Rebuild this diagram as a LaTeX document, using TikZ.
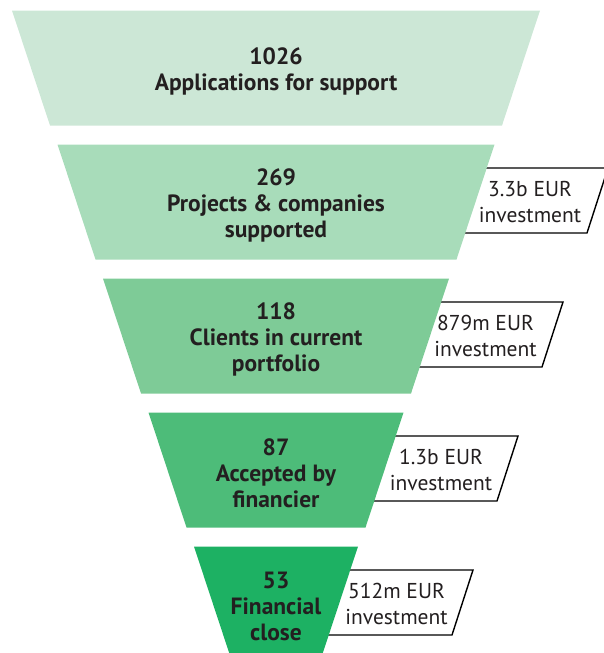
\documentclass[tikz,border=0pt]{standalone}
\usepackage{fontspec}
\setmainfont{PT Sans}
\definecolor{fA}{RGB}{204,231,214}
\definecolor{fB}{RGB}{168,220,186}
\definecolor{fC}{RGB}{126,203,151}
\definecolor{fD}{RGB}{77,188,121}
\definecolor{fE}{RGB}{29,177,99}
\definecolor{txt}{RGB}{35,31,32}
\tikzset{
  layer/.style={draw=none},
  boxline/.style={draw=black, line width=1.4pt, line join=miter},
  bigtxt/.style={align=center, text=txt, font=\fontsize{23.5}{26}\selectfont\bfseries, inner sep=0pt},
  smalltxt/.style={align=center, text=txt, font=\fontsize{21.5}{26.5}\selectfont, inner sep=0pt}
}
\begin{document}
\begin{tikzpicture}[x=1pt,y=-1pt]
\useasboundingbox (0,0) rectangle (604,653);
% boxes (behind funnel)
\foreach \i/\t in {1/{3.3b EUR\\investment},2/{879m EUR\\investment},3/{1.3b EUR\\investment},4/{512m EUR\\investment}}{
  \pgfmathsetmacro{\ty}{168+134*(\i-1)}
  \pgfmathsetmacro{\by}{\ty+65}
  \pgfmathsetmacro{\rx}{608-45*(\i-1)}
  \pgfmathsetmacro{\lx}{\rx-160}
  \fill[white] (\lx,\ty) -- (\rx,\ty) -- (\rx-21,\by) -- (\lx-21,\by) -- cycle;
  \draw[boxline] (\lx,\ty) -- (\rx,\ty) -- (\rx-21,\by) -- (\lx-21,\by);
  \node[smalltxt] (box\i) at ({530-44.5*(\i-1)},{\ty+34}) {\t};
}
% funnel layers
\foreach \i/\c in {0/fA,1/fB,2/fC,3/fD,4/fE}{
  \pgfmathsetmacro{\ty}{10.5+134*\i}
  \pgfmathsetmacro{\by}{\ty+115}
  \pgfmathsetmacro{\hw}{264-45.5*\i}
  \fill[\c] (276-\hw,\ty) -- (276+\hw,\ty) -- (276+\hw-38,\by) -- (276-\hw+38,\by) -- cycle;
}
\node[bigtxt] (l1) at (276,71) {1026\\Applications for support};
\node[bigtxt] (l2) at (276,205) {269\\Projects \& companies\\supported};
\node[bigtxt] (l3) at (276,339) {118\\Clients in current\\portfolio};
\node[bigtxt] (l4) at (276,473) {87\\Accepted by\\financier};
\node[bigtxt] (l5) at (276,606) {53\\Financial\\close};
\end{tikzpicture}
\end{document}
